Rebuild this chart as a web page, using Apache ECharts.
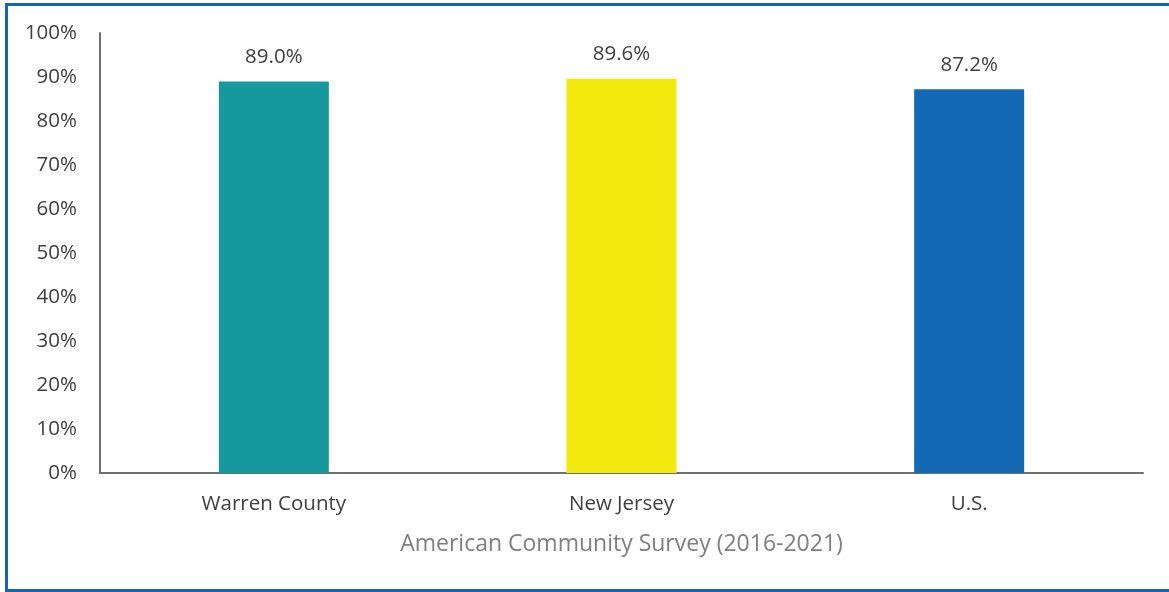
<!DOCTYPE html>
<html>
<head>
<meta charset="utf-8">
<script src="https://cdn.jsdelivr.net/npm/echarts@6/dist/echarts.min.js"></script>
<style>
  html, body {margin: 0; padding: 0; background: #fff;}
  #frame {position: absolute; left: 5px; top: 3px; width: 1180px; height: 583px; border: 3px solid #1565b8; border-right: none;}
  #chart {position: absolute; left: 0; top: 0; width: 1169px; height: 592px;}
</style>
</head>
<body>
<div id="frame"></div>
<div id="chart"></div>
<script>
const categories = ['Warren County', 'New Jersey', 'U.S.']
const values = [89.0, 89.6, 87.2]
const barColors = ['#15999e', '#f2e90f', '#1469b4']
const yTicks = [0, 10, 20, 30, 40, 50, 60, 70, 80, 90, 100]
const axisTitle = 'American Community Survey (2016-2021)'

const font = '"Open Sans", Lato, sans-serif'

const chart = echarts.init(document.getElementById('chart'), null, {renderer: 'canvas'})
chart.setOption({
  backgroundColor: 'transparent',
  animation: false,
  grid: {left: 100, top: 33, right: 26, bottom: 119, containLabel: false},
  xAxis: {
    type: 'category',
    data: categories,
    name: axisTitle,
    nameLocation: 'middle',
    nameGap: 60,
    nameTextStyle: {color: '#7f7f7f', fontSize: 23, fontFamily: font},
    axisLine: {lineStyle: {color: '#6f6f6f', width: 2}},
    axisTick: {show: false},
    axisLabel: {color: '#404040', fontSize: 20.5, fontFamily: font, margin: 21},
  },
  yAxis: {
    type: 'value',
    min: yTicks[0],
    max: yTicks[yTicks.length - 1],
    interval: 10,
    axisLine: {show: true, lineStyle: {color: '#6f6f6f', width: 2}},
    axisTick: {show: false},
    splitLine: {show: false},
    axisLabel: {color: '#404040', fontSize: 20.5, fontFamily: font, margin: 23, formatter: '{value}%'},
  },
  series: [{
    type: 'bar',
    barWidth: 110,
    data: values.map((v, i) => ({value: v, itemStyle: {color: barColors[i]}})),
    label: {
      show: true,
      position: 'top',
      distance: 14,
      color: '#404040',
      fontSize: 20.5,
      fontFamily: font,
      formatter: (p) => p.value.toFixed(1) + '%',
    },
  }],
})
</script>
</body>
</html>
